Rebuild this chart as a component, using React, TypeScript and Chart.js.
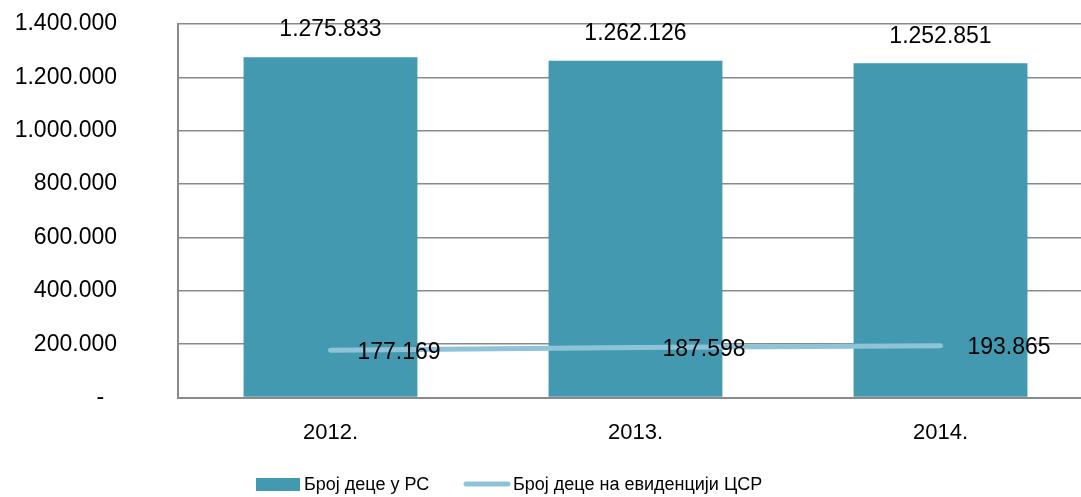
import React, { useEffect, useRef } from "react";
import { Chart, registerables } from "chart.js";

Chart.register(...registerables);

const categories = ["2012.", "2013.", "2014."];
const childrenTotal = [1275833, 1262126, 1252851];
const childrenCSR = [177169, 187598, 193865];
const seriesNames = ["Број деце у РС", "Број деце на евиденцији ЦСР"];
const yTicks = [0, 200000, 400000, 600000, 800000, 1000000, 1200000, 1400000];

const BAR_COLOR = "#4399b0";
const LINE_COLOR = "#8fc4d8";
const GRID_COLOR = "#8a8a8a";
const FONT = "'Liberation Sans', Arial, sans-serif";

function fmt(v: number): string {
  if (v === 0) return "-\u00a0\u00a0";
  return Math.round(v).toString().replace(/\B(?=(\d{3})+(?!\d))/g, ".");
}

const labelsPlugin = {
  id: "valueLabels",
  afterDatasetsDraw(chart: any) {
    const ctx = chart.ctx;
    ctx.save();
    ctx.fillStyle = "#000";
    ctx.font = `23px ${FONT}`;
    const barMeta = chart.getDatasetMeta(1);
    barMeta.data.forEach((el: any, i: number) => {
      ctx.textAlign = "center";
      ctx.textBaseline = "middle";
      ctx.fillText(fmt(childrenTotal[i]), el.x, el.y - 27);
    });
    const lineMeta = chart.getDatasetMeta(0);
    lineMeta.data.forEach((el: any, i: number) => {
      ctx.textAlign = "left";
      ctx.textBaseline = "middle";
      ctx.fillText(fmt(childrenCSR[i]), el.x + 27, el.y + 2);
    });
    ctx.restore();
  },
};

const legendPlugin = {
  id: "customLegend",
  afterDraw(chart: any) {
    const ctx = chart.ctx;
    ctx.save();
    ctx.font = `18px ${FONT}`;
    ctx.textBaseline = "middle";
    ctx.textAlign = "left";
    const cy = 485;
    ctx.fillStyle = BAR_COLOR;
    ctx.fillRect(256, 478, 44, 13);
    ctx.fillStyle = "#000";
    ctx.fillText(seriesNames[0], 304, cy);
    ctx.strokeStyle = LINE_COLOR;
    ctx.lineWidth = 5;
    ctx.lineCap = "round";
    ctx.beginPath();
    ctx.moveTo(466, 484);
    ctx.lineTo(508, 484);
    ctx.stroke();
    ctx.fillStyle = "#000";
    ctx.fillText(seriesNames[1], 513, cy);
    ctx.restore();
  },
};

export default function App() {
  const ref = useRef<HTMLCanvasElement | null>(null);
  useEffect(() => {
    if (!ref.current) return;
    const chart = new Chart(ref.current, {
      type: "bar",
      data: {
        labels: categories,
        datasets: [
          {
            type: "line",
            label: seriesNames[1],
            data: childrenCSR,
            borderColor: LINE_COLOR,
            backgroundColor: LINE_COLOR,
            borderWidth: 5,
            borderCapStyle: "round",
            pointRadius: 0,
            tension: 0,
            order: 0,
          } as any,
          {
            type: "bar",
            label: seriesNames[0],
            data: childrenTotal,
            backgroundColor: BAR_COLOR,
            categoryPercentage: 1,
            barPercentage: 0.57,
            order: 1,
          } as any,
        ],
      },
      plugins: [labelsPlugin, legendPlugin],
      options: {
        responsive: false,
        animation: false,
        layout: { padding: { top: 24, right: 0, left: 0, bottom: 29 } },
        plugins: {
          legend: { display: false },
          tooltip: { enabled: false },
        },
        scales: {
          x: {
            grid: { display: false, drawTicks: false },
            border: { display: true, color: GRID_COLOR, width: 2 },
            ticks: {
              color: "#000",
              font: { family: FONT, size: 22 },
              padding: 22,
            },
          },
          y: {
            min: 0,
            max: 1400000,
            afterBuildTicks(scale: any) {
              scale.ticks = yTicks.map((v) => ({ value: v }));
            },
            grid: { color: GRID_COLOR, lineWidth: 1.5, drawTicks: false },
            border: { display: true, color: GRID_COLOR, width: 2 },
            ticks: {
              color: "#000",
              font: { family: FONT, size: 23 },
              padding: 61,
              callback: (v: any) => fmt(Number(v)),
            },
            afterFit(scale: any) {
              scale.width = 178;
              scale.paddingTop = 0;
              scale.paddingBottom = 0;
            },
          },
        },
      },
    });
    return () => chart.destroy();
  }, []);
  return (
    <div style={{ position: "fixed", left: 0, top: 0, width: 1081, height: 497, overflow: "hidden", background: "#fff" }}>
      <canvas ref={ref} width={1093} height={497} style={{ display: "block", width: 1093, height: 497 }} />
    </div>
  );
}
